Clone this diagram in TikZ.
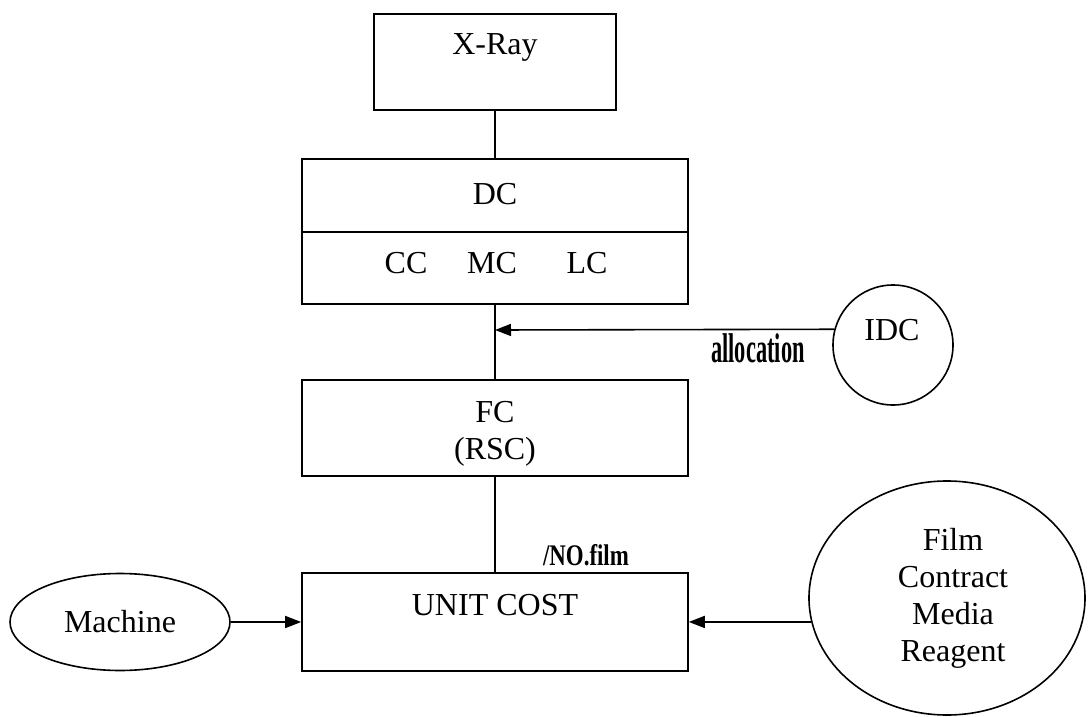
\documentclass[tikz,border=0pt]{standalone}
\usepackage{fontspec}
\setmainfont{Liberation Serif}
\usetikzlibrary{arrows.meta,shapes.geometric,calc}
\begin{document}
\begin{tikzpicture}[x=1pt,y=-1pt,
  box/.style={draw,line width=1.6pt,rectangle,inner sep=0pt},
  lbl/.style={font=\fontsize{32}{37}\selectfont,inner sep=0pt},
  boldlbl/.style={font=\fontsize{32}{32}\selectfont\bfseries,inner sep=0pt},
  conn/.style={line width=1.6pt},
  arr/.style={line width=1.6pt,-{Triangle[length=16pt,width=12pt]}},
]
\useasboundingbox (0,0) rectangle (1088,717);
% boxes
\node[box,minimum width=242pt,minimum height=96pt] (xray) at (495,62) {};
\node[box,minimum width=386pt,minimum height=73pt] (dctop) at (495,195.5) {};
\node[box,minimum width=386pt,minimum height=72pt] (dcbot) at (495,268) {};
\node[box,minimum width=386pt,minimum height=96pt] (fc) at (495,428) {};
\node[box,minimum width=386pt,minimum height=98pt] (uc) at (495,622) {};
\node[draw,line width=1.6pt,circle,minimum size=120pt,inner sep=0pt] (idc) at (893,345) {};
\node[draw,line width=1.6pt,ellipse,minimum width=220pt,minimum height=97pt,inner sep=0pt,lbl] (mach) at (120,622) {Machine};
\node[draw,line width=1.6pt,ellipse,minimum width=276pt,minimum height=234pt,inner sep=0pt] (mat) at (947,598) {};
% texts
\node[lbl] (txray) at (495,47) {X-Ray};
\node[lbl] (tdc) at (495,194) {DC};
\node[lbl] (tcc) at (406,263) {CC};
\node[lbl] (tmc) at (492,263) {MC};
\node[lbl] (tlc) at (587,263) {LC};
\node[lbl] (tfc) at (495,412) {FC};
\node[lbl] (trsc) at (495,452) {(RSC)};
\node[lbl] (tuc) at (495,605) {UNIT COST};
\node[lbl] (tidc) at (892,330) {IDC};
\node[lbl,align=center] (tmat) at (953,598) {Film\\Contract\\Media\\Reagent};
\node[boldlbl] (talloc) at (758,348) {\scalebox{0.7}[1.3]{allocation}};
\node[boldlbl,font=\fontsize{26}{26}\selectfont\bfseries] (tfilm) at (586,555) {\scalebox{0.88}[1.15]{/NO.film}};
% connectors
\coordinate (j) at (495,330);
\draw[conn] (xray.south) -- (dctop.north);
\draw[conn] (dcbot.south) -- (fc.north);
\draw[conn] (fc.south) -- (uc.north);
\draw[arr] (idc.165.5) -- (j);
\draw[arr] (mach.east) -- (mach.east -| uc.west);
\draw[arr] (mat.190) -- (mat.190 -| uc.east);
\end{tikzpicture}
\end{document}
